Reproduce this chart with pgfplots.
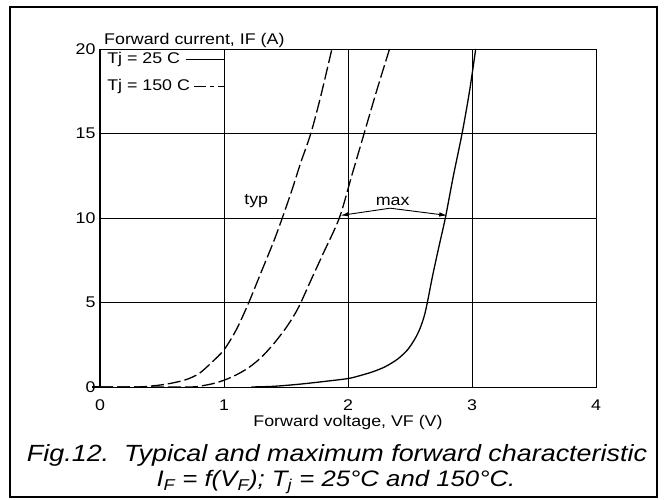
\documentclass[border=0pt]{standalone}
\usepackage{fontspec}
\setmainfont{Liberation Sans}[FakeStretch=1.15]
\usepackage{pgfplots}
\pgfplotsset{compat=1.18}
\usetikzlibrary{arrows.meta}
\begin{document}
\begin{tikzpicture}[x=1pt,y=1pt]
\path[use as bounding box] (0,0) rectangle (665,500);
\draw[line width=2.4pt] (10,3) rectangle (657,493);
\begin{axis}[
  at={(100pt,113pt)}, anchor=south west,
  scale only axis, width=496pt, height=338pt,
  xmin=0, xmax=4, ymin=0, ymax=20,
  xtick={0,1,2,3,4}, ytick={0,5,10,15,20},
  grid=major, major grid style={black, line width=0.7pt},
  axis line style={black, line width=0.7pt},
  tick style={draw=none},
  /pgf/number format/assume math mode=true,
  ticklabel style={font=\fontsize{15.5}{18}\selectfont},
  yticklabel style={xshift=-1pt},
  xticklabel style={yshift=-9pt},
  clip=false,
]
\draw[line width=1.8pt] (axis cs:0,0) -- (axis cs:0,20);
\draw[line width=1.2pt] (axis cs:0,0) -- ++(-8pt,0);
% typ 150 C
\addplot[black, line width=1.3pt, dash pattern=on 13pt off 4pt, smooth] coordinates {
(0,0) (0.3,0) (0.4,0.05) (0.5,0.13) (0.6,0.26) (0.7,0.45) (0.8,0.8) (0.9,1.45) (1.0,2.2) (1.1,3.4) (1.2,5.0) (1.3,6.8) (1.4,8.6) (1.47,10) (1.55,11.7) (1.62,13.3) (1.70,15) (1.78,17.2) (1.87,20)};
% max 150 C
\addplot[black, line width=1.3pt, dash pattern=on 13pt off 4pt, smooth] coordinates {
(0,0) (0.7,0) (0.8,0.05) (0.9,0.18) (1.0,0.4) (1.1,0.72) (1.2,1.15) (1.3,1.75) (1.4,2.55) (1.5,3.5) (1.57,4.3) (1.62,5) (1.7,6.3) (1.8,7.9) (1.93,10) (2.03,12.5) (2.13,15) (2.23,17.5) (2.335,20)};
% max 25 C
\addplot[black, line width=1.3pt, smooth] coordinates {
(1.22,0) (1.4,0.04) (1.6,0.16) (1.8,0.32) (2.0,0.5) (2.1,0.68) (2.2,0.9) (2.3,1.2) (2.4,1.65) (2.48,2.2) (2.54,2.85) (2.58,3.45) (2.615,4.2) (2.64,5) (2.68,6.5) (2.73,8.2) (2.785,10) (2.85,12.5) (2.92,15) (2.98,17.5) (3.03,20)};
% legend lines
\addplot[black, line width=1.2pt] coordinates {(0.69,19.37) (1.0,19.37)};
\addplot[black, line width=1.2pt, dash pattern=on 12pt off 4pt on 4pt off 4pt] coordinates {(0.76,17.77) (1.0,17.77)};
% max arrow
\addplot[black, line width=0.9pt, {Latex[length=8pt,width=4.5pt]}-{Latex[length=8pt,width=4.5pt]}] coordinates {(1.94,10.15) (2.34,10.58) (2.80,10.15)};
\node[font=\fontsize{15.5}{18}\selectfont, anchor=west] at (axis cs:0.03,19.37) {Tj = 25 C};
\node[font=\fontsize{15.5}{18}\selectfont, anchor=west] at (axis cs:0.03,17.77) {Tj = 150 C};
\node[font=\fontsize{15.5}{18}\selectfont] at (axis cs:1.26,11.0) {typ};
\node[font=\fontsize{15.5}{18}\selectfont] at (axis cs:2.36,11.0) {max};
\node[font=\fontsize{15.5}{18}\selectfont, anchor=base west, inner sep=0pt] at ([xshift=4pt,yshift=4pt]axis cs:0,20) {Forward current, IF (A)};
\node[font=\fontsize{15.5}{18}\selectfont] at ([yshift=-35pt]axis cs:2,0) {Forward voltage, VF (V)};
\end{axis}
\node[font=\fontsize{23.4}{26}\selectfont\itshape] at (337,45) {Fig.12.\ \ Typical and maximum forward characteristic};
\node[font=\fontsize{22.4}{26}\selectfont\itshape] at (336,18) {I\textsubscript{F} = f(V\textsubscript{F}); T\textsubscript{j} = 25\textdegree C and 150\textdegree C.};
\end{tikzpicture}
\end{document}
